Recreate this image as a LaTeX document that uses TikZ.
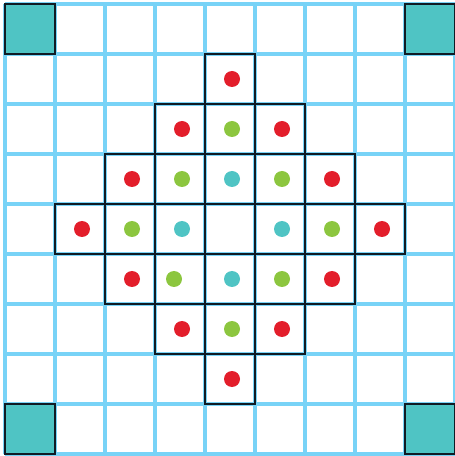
\documentclass[tikz,border=0pt]{standalone}
\usepackage{tikz}
\definecolor{gridc}{HTML}{78D3F7}
\definecolor{tealc}{HTML}{4FC4C4}
\definecolor{redc}{HTML}{E31E2B}
\definecolor{greenc}{HTML}{8CC63F}
\definecolor{edgec}{HTML}{101B24}
\tikzset{
  gline/.style={gridc,line width=1.8pt},
  cellbox/.style={draw=edgec,line width=1.6pt},
  spot/.style={circle,inner sep=0pt,minimum size=0.32cm}
}
\newcommand{\spotat}[4]{%
  \node[spot,fill=#3] (s#4) at ({#1+0.54},{8.5-#2}) {};}

\begin{document}
\begin{tikzpicture}
\useasboundingbox (-0.1,-0.04) rectangle (9,9.08);
\draw[gline] (0,0) grid (9,9);
% corners
\foreach \x/\y in {0/0,8/0,0/8,8/8}
  \draw[cellbox,fill=tealc] (\x,\y) rectangle ++(1,1);
% diamond of cells
\foreach \r in {1,...,7}{
  \foreach \c in {1,...,7}{
    \pgfmathtruncatemacro{\d}{abs(\c-4)+abs(\r-4)}
    \ifnum\d<4 \draw[cellbox] (\c,8-\r) rectangle ++(1,1); \fi
  }
}
% outer ring
\foreach \c/\r [count=\i] in {4/1,3/2,5/2,2/3,6/3,1/4,7/4,2/5,6/5,3/6,5/6,4/7}{
  \spotat{\c}{\r}{redc}{r\i}}
% middle ring
\foreach \c/\r [count=\i] in {4/2,3/3,5/3,2/4,6/4,5/5,4/6}{
  \spotat{\c}{\r}{greenc}{g\i}}
\node[spot,fill=greenc] (g8) at (3.38,3.5) {};
% inner ring
\foreach \c/\r [count=\i] in {4/3,3/4,5/4,4/5}{
  \spotat{\c}{\r}{tealc}{t\i}}
\end{tikzpicture}
\end{document}
